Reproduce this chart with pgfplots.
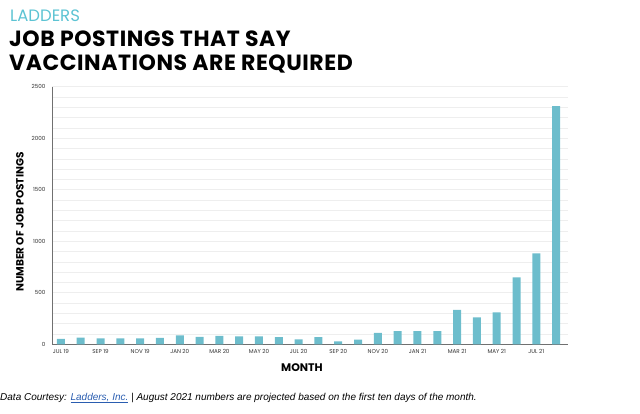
\documentclass[border=0pt]{standalone}
\usepackage{pgfplots}
\pgfplotsset{compat=1.18}
\usepackage{fontspec}
\setmainfont{Poppins}
\newfontfamily\titlefont{Poppins}[LetterSpace=2.5]
\newfontfamily\arial{Liberation Sans}

\definecolor{barteal}{HTML}{6DBDCC}
\definecolor{logoteal}{HTML}{5CC3D3}
\definecolor{gridgray}{HTML}{EEEEEE}
\definecolor{axisgray}{HTML}{707070}
\definecolor{linkblue}{HTML}{2A5DB0}

\begin{document}
\begin{tikzpicture}
\path[use as bounding box] (0pt,0pt) rectangle (640pt,-414pt);

\begin{axis}[
    at={(52pt,-344.3pt)}, anchor=south west,
    scale only axis, width=516pt, height=257.6pt,
    xmin=-0.45, xmax=25.6,
    ymin=0, ymax=2500,
    axis x line*=bottom, axis y line*=left,
    axis line style={axisgray, line width=1pt, -},
    xtick={0,2,...,24},
    xticklabels={JUL 19, SEP 19, NOV 19, JAN 20, MAR 20, MAY 20, JUL 20,
                 SEP 20, NOV 20, JAN 21, MAR 21, MAY 21, JUL 21},
    ytick={0,500,...,2500},
    minor y tick num=4,
    major tick length=0pt, minor tick length=0pt,
    ymajorgrids, yminorgrids,
    major grid style={gridgray, line width=0.6pt},
    minor grid style={gridgray, line width=0.6pt},
    tick label style={font=\fontsize{5.6}{6}\selectfont, text=black!80},
    /pgf/number format/assume math mode=true,
    /pgf/number format/1000 sep={},
    scaled y ticks=false,
    yticklabel style={xshift=-3pt},
    xticklabel style={yshift=-2pt},
]
\addplot[ybar, bar width=8pt, fill=barteal, draw=none] coordinates {
    (0,52) (1,65) (2,58) (3,58) (4,58) (5,62) (6,87) (7,71)
    (8,81) (9,78) (10,78) (11,70) (12,48) (13,70) (14,29) (15,45)
    (16,110) (17,129) (18,129) (19,129) (20,333) (21,262) (22,310)
    (23,649) (24,882) (25,2312)
};
\end{axis}

% titles
\node[anchor=base west, inner sep=0pt, text=logoteal,
      font=\fontsize{16.5}{16}\selectfont] at (10pt,-22pt) {LADDERS};
\node[anchor=base west, inner sep=0pt, font=\titlefont\bfseries\fontsize{22}{22}\selectfont]
    at (9pt,-47pt) {JOB POSTINGS THAT SAY};
\node[anchor=base west, inner sep=0pt, font=\titlefont\bfseries\fontsize{22}{22}\selectfont]
    at (9pt,-71pt) {VACCINATIONS ARE REQUIRED};

% axis titles
\node[rotate=90, inner sep=0pt, font=\bfseries\fontsize{10.5}{11}\selectfont]
    at (20pt,-222pt) {NUMBER OF JOB POSTINGS};
\node[inner sep=0pt, font=\bfseries\fontsize{11}{11}\selectfont]
    at (302pt,-368pt) {MONTH};

% footer
\node[anchor=base west, inner sep=0pt, font=\arial\itshape\fontsize{10}{11}\selectfont]
    at (0pt,-400pt) {Data Courtesy: \textcolor{linkblue}{\underline{Ladders, Inc.}} | August 2021 numbers are projected based on the first ten days of the month.};
\end{tikzpicture}
\end{document}
